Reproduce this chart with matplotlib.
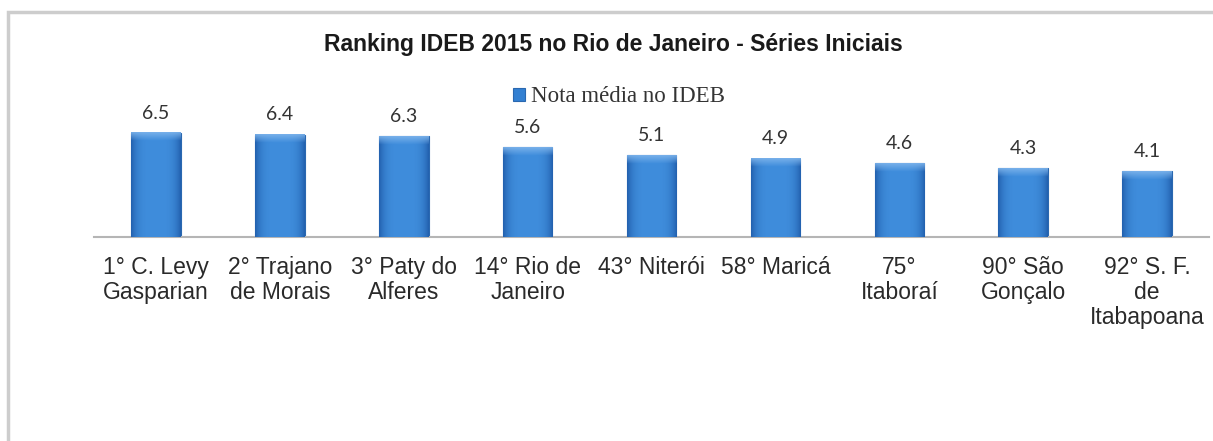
import matplotlib
matplotlib.use('Agg')
import matplotlib.pyplot as plt
import numpy as np
from matplotlib.patches import Rectangle
from matplotlib.colors import to_rgb

# ---- data ----
categories = ["1° C. Levy\nGasparian", "2° Trajano\nde Morais", "3° Paty do\nAlferes",
              "14° Rio de\nJaneiro", "43° Niterói", "58° Maricá", "75°\nItaboraí",
              "90° São\nGonçalo", "92° S. F.\nde\nItabapoana"]
values = [6.5, 6.4, 6.3, 5.6, 5.1, 4.9, 4.6, 4.3, 4.1]
series_name = "Nota média no IDEB"
title = "Ranking IDEB 2015 no Rio de Janeiro - Séries Iniciais"

W, H = 1213, 441
fig = plt.figure(figsize=(W / 100, H / 100), dpi=100)
fig.patch.set_facecolor('white')

# outer chart frame (cropped on right/bottom)
fig.add_artist(Rectangle((8 / W, -0.05), 1.2, 1 - 12 / H + 0.05, transform=fig.transFigure,
                         fill=False, edgecolor='#cdcdcd', linewidth=2.5))

ax = fig.add_axes([94 / W, (H - 237) / H, (1209 - 94) / W, 137 / H])
x = np.arange(len(values))
bars = ax.bar(x, values, width=0.4, color='#3380d2', edgecolor='#2a68b0', linewidth=0.8,
              label=series_name, zorder=2)
xlim = (-0.5, len(values) - 0.5)
ylim = (0, 8.56)
ax.set_xlim(*xlim)
ax.set_ylim(*ylim)

# bevel / gradient shading of bars
dark = np.array(to_rgb('#2362b0'))
light = np.array(to_rgb('#3f8ddc'))
bevel = np.array(to_rgb('#7fb5ec'))
px_per_unit = 137 / ylim[1]
for b in bars:
    x0, y0, w, h = b.get_x(), b.get_y(), b.get_width(), b.get_height()
    nrows = max(int(h * px_per_unit), 2)
    ncols = 50
    t = np.linspace(0, 1, ncols)
    f = 1 - np.abs(2 * t - 1) ** 4
    row = dark + (light - dark) * f[:, None]
    img = np.repeat(row[None, :, :], nrows, axis=0)
    nb = 8
    for r in range(min(nb, nrows)):
        a = 1 - r / nb
        img[r] = img[r] * (1 - 0.85 * a) + bevel * 0.85 * a
    ax.imshow(img, extent=(x0, x0 + w, y0, y0 + h), aspect='auto', origin='upper',
              clip_path=b, zorder=3, interpolation='bilinear')
    ax.annotate(f"{b.get_height():.1f}", (x0 + w / 2, y0 + h), xytext=(0, 8),
                textcoords='offset points', ha='center', va='bottom', fontsize=14,
                family='Lato', color='#333333')
ax.set_xlim(*xlim)
ax.set_ylim(*ylim)

for s in ('top', 'left', 'right'):
    ax.spines[s].set_visible(False)
ax.spines['bottom'].set_color('#b5b5b5')
ax.spines['bottom'].set_linewidth(1.5)
ax.set_yticks([])
ax.set_xticks(x)
ax.set_xticklabels(categories, family='Liberation Sans', fontsize=16.5, color='#2a2a2a',
                   multialignment='center', linespacing=1.1)
ax.tick_params(axis='x', length=0, pad=14)
ax.set_facecolor('none')

ax.legend(loc='center', bbox_to_anchor=(619 / W, 1 - 97 / H), bbox_transform=fig.transFigure,
          frameon=False, prop={'family': 'Liberation Serif', 'size': 16.5},
          handlelength=0.5, handleheight=0.5, handletextpad=0.25, borderpad=0,
          labelcolor='#333333')

fig.text(613 / W, 1 - 51 / H, title, ha='center', va='baseline', fontsize=16.5,
         fontweight='bold', family='Liberation Sans', color='#1a1a1a')

fig.savefig('out.png', dpi=100, facecolor='white')
